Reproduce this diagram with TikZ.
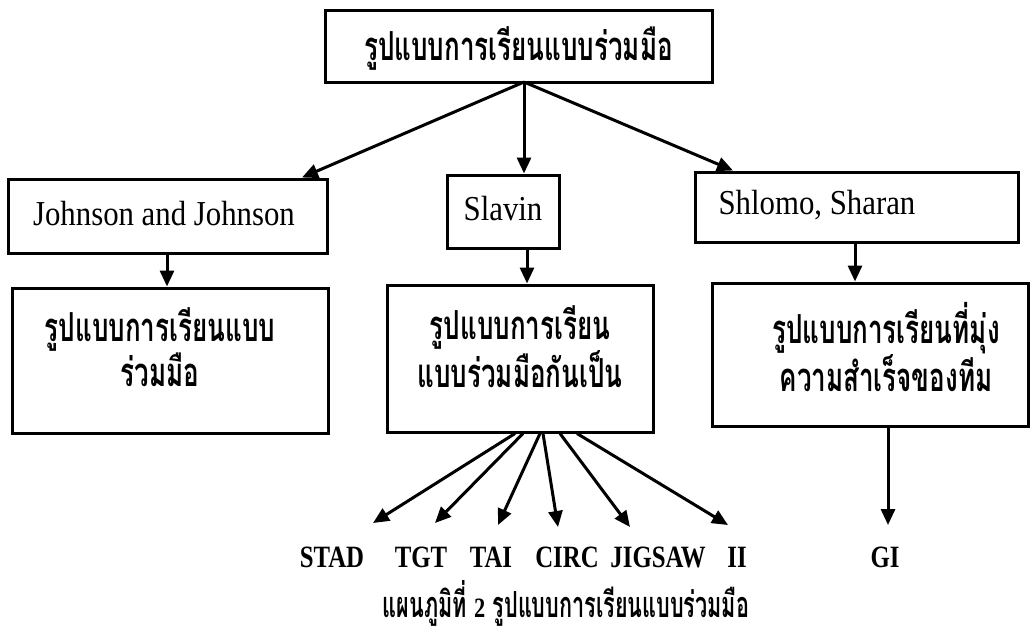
\documentclass[tikz,border=0pt]{standalone}
\usepackage{fontspec}
\setmainfont{Liberation Serif}
\newfontfamily\thai[Script=Thai,FakeStretch=0.65]{Loma}
\newfontfamily\thaicap[Script=Thai,FakeStretch=0.6]{Loma}
\newfontfamily\enfont[FakeStretch=0.88]{Liberation Serif}
\newfontfamily\lblfont[FakeStretch=0.8]{Liberation Serif}
\usetikzlibrary{arrows.meta}
\tikzset{
  box/.style={draw,line width=3pt,inner sep=0pt},
  thaitxt/.style={font=\thai\bfseries\fontsize{40}{41}\selectfont,align=center,inner sep=0pt},
  captxt/.style={font=\thaicap\bfseries\fontsize{36}{40}\selectfont,inner sep=0pt},
  entxt/.style={font=\enfont\fontsize{35}{38}\selectfont,inner sep=0pt},
  lbl/.style={font=\lblfont\bfseries\fontsize{31}{34}\selectfont,inner sep=0pt},
  arr/.style={line width=3pt,-{Triangle[length=16pt,width=14pt]}}
}
\begin{document}
\begin{tikzpicture}[x=1pt,y=-1pt]
\useasboundingbox (0,0) rectangle (1036,635);
% boxes
\node[box,minimum width=387pt,minimum height=72pt] (top) at (518.5,46) {};
\node[thaitxt] (topt) at (518.5,48) {รูปแบบการเรียนแบบร่วมมือ};
\node[box,minimum width=319pt,minimum height=74pt] (jj) at (168,216) {};
\node[entxt] (jjt) at (164,214) {Johnson and Johnson};
\node[box,minimum width=112pt,minimum height=73pt] (sl) at (503,211.5) {};
\node[entxt] (slt) at (503,209) {Slavin};
\node[box,minimum width=323pt,minimum height=70pt] (sh) at (856.5,207) {};
\node[entxt] (sht) at (817,205) {Shlomo, Sharan};
\node[box,minimum width=316pt,minimum height=145pt] (jl) at (170,360.5) {};
\node[thaitxt] (jlt) at (160,347) {รูปแบบการเรียนแบบ\\ร่วมมือ};
\node[box,minimum width=266pt,minimum height=147pt] (sll) at (520,358.5) {};
\node[thaitxt] (sllt) at (520,347) {รูปแบบการเรียน\\แบบร่วมมือกันเป็น};
\node[box,minimum width=316pt,minimum height=143pt] (shl) at (870,354.5) {};
\node[thaitxt] (shlt) at (886,347) {รูปแบบการเรียนที่มุ่ง\\ความสำเร็จของทีม};
% top arrows
\coordinate (apex) at (524,82);
\draw[arr] (apex) -- (jj.north -| 302,0);
\draw[arr] (apex) -- (sl.north -| 524,0);
\draw[arr] (apex) -- (sh.north -| 733,0);
\draw[arr] (jj.south -| 167,0) -- (jl.north -| 167,0);
\draw[arr] (sl.south -| 527,0) -- (sll.north -| 527,0);
\draw[arr] (sh.south -| 855,0) -- (shl.north -| 855,0);
% labels
\node[lbl] (stad) at (332,557) {STAD};
\node[lbl] (tgt) at (421,557) {TGT};
\node[lbl] (tai) at (491,557) {TAI};
\node[lbl] (circ) at (567,557) {CIRC};
\node[lbl] (jig) at (658,557) {JIGSAW};
\node[lbl] (ii) at (737,557) {II};
\node[lbl] (gi) at (885,557) {GI};
\coordinate (tstad) at (373,523);
\coordinate (ttgt) at (435,523);
\coordinate (ttai) at (498,525);
\coordinate (tcirc) at (558,527);
\coordinate (tjig) at (630,527);
\coordinate (tii) at (728,525);
\coordinate (tgi) at (888,525);
\draw[arr] (sll.south -| 515,0) -- (tstad);
\draw[arr] (sll.south -| 523,0) -- (ttgt);
\draw[arr] (sll.south -| 540,0) -- (ttai);
\draw[arr] (sll.south -| 543,0) -- (tcirc);
\draw[arr] (sll.south -| 560,0) -- (tjig);
\draw[arr] (sll.south -| 577,0) -- (tii);
\draw[arr] (shl.south -| 888,0) -- (tgi);
% caption
\node[captxt] (cap) at (566,603) {แผนภูมิที่ {\lblfont\bfseries\fontsize{28}{30}\selectfont 2} รูปแบบการเรียนแบบร่วมมือ};
\end{tikzpicture}
\end{document}
